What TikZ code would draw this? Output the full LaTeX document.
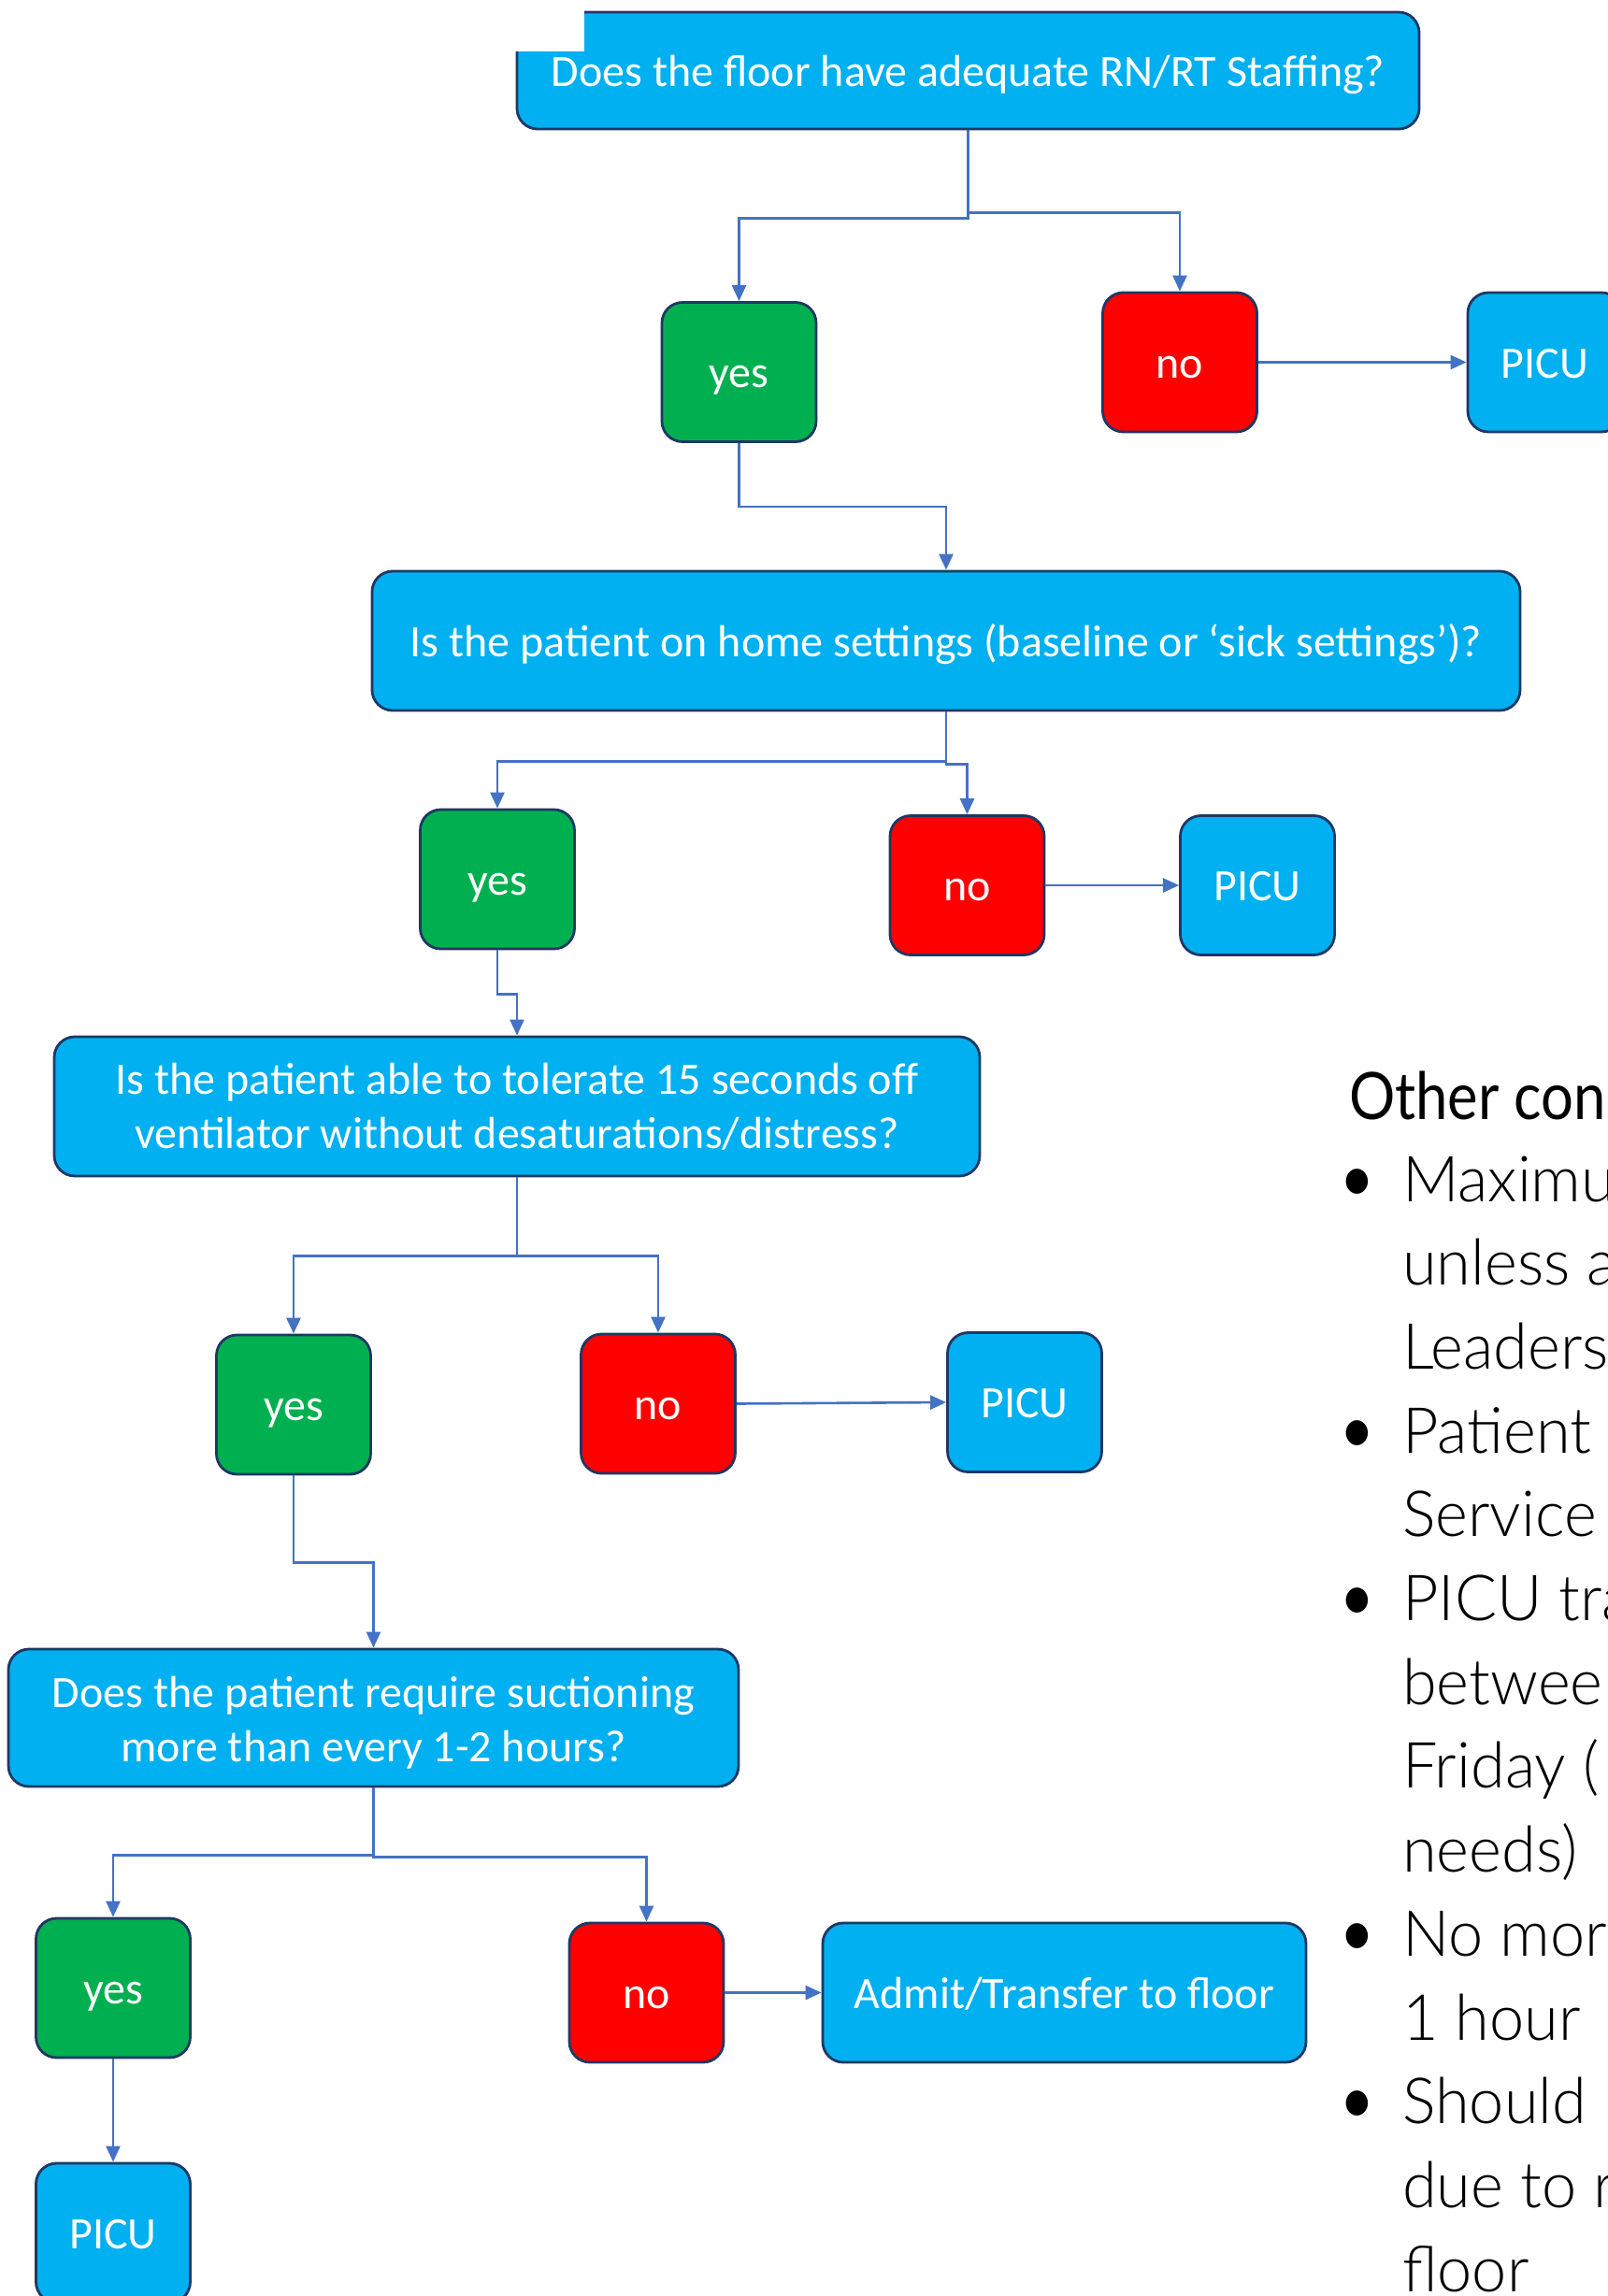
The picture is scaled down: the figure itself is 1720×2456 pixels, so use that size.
\documentclass[tikz,border=0pt]{standalone}
\usepackage{fontspec}
\setmainfont{Carlito}
\newfontfamily\headfont[FakeStretch=0.88]{Lato}
\newfontfamily\bodyfont[FakeStretch=0.98]{Lato Light}
\usetikzlibrary{arrows.meta}
\definecolor{boxblue}{HTML}{00B0F0}
\definecolor{boxgreen}{HTML}{00B050}
\definecolor{boxred}{HTML}{FF0000}
\definecolor{edgenavy}{HTML}{1F3864}
\definecolor{lineblue}{HTML}{4472C4}
\begin{document}
\begin{tikzpicture}[x=1pt,y=-1pt,
  box/.style={draw=edgenavy, line width=2.8pt, rounded corners=22pt, text=white,
    font=\fontsize{48}{58}\selectfont, align=center, inner sep=0pt, minimum height=149pt},
  oneline/.style={text height=40.8pt, text depth=7.2pt},
  bluebox/.style={box, fill=boxblue},
  yesbox/.style={box, oneline, fill=boxgreen, minimum width=165pt},
  nobox/.style={box, oneline, fill=boxred, minimum width=165pt},
  picubox/.style={bluebox, oneline, minimum width=165pt},
  conn/.style={draw=lineblue, line width=2.6pt, -{Triangle[length=17pt,width=15pt]}},
  headtxt/.style={anchor=base west, inner sep=0pt, font=\headfont\fontsize{70}{84}\selectfont},
  bodytxt/.style={anchor=base west, inner sep=0pt, font=\bodyfont\fontsize{68}{84}\selectfont},
  bultxt/.style={anchor=base west, inner sep=0pt, font=\headfont\fontsize{72}{84}\selectfont},
]
\useasboundingbox (0,0) rectangle (1720,2456);
\clip (0,0) rectangle (1720,2456);

% --- level 1
\node[bluebox, oneline, minimum width=965pt, minimum height=125pt] (top) at (1035.5,75.5) {Does the floor have adequate RN/RT Staffing?};
\fill[white] (549,9) rectangle (625,55);
\node[yesbox] (yes1) at (790.5,398) {yes};
\node[nobox] (no1) at (1262,387.5) {no};
\node[picubox] (picu1) at (1652.5,387.5) {PICU};

% --- level 2
\node[bluebox, oneline, minimum width=1228pt] (box2) at (1012,685.5) {Is the patient on home settings (baseline or ‘sick settings’)?};
\node[yesbox] (yes2) at (532,940.5) {yes};
\node[nobox] (no2) at (1034.5,947) {no};
\node[picubox] (picu2) at (1345,947) {PICU};

% --- level 3
\node[bluebox, minimum width=990pt] (box3) at (553,1183.5) {Is the patient able to tolerate 15 seconds off\\ventilator without desaturations/distress?};
\node[yesbox] (yes3) at (314,1502.5) {yes};
\node[nobox] (no3) at (704,1501.5) {no};
\node[picubox] (picu3) at (1096,1500) {PICU};

% --- level 4
\node[bluebox, minimum width=781pt, minimum height=147pt] (box4) at (399.5,1837.5) {\rule{0pt}{44pt}Does the patient require suctioning\\more than every 1-2 hours?};
\node[yesbox] (yes4) at (121,2126.5) {yes};
\node[nobox] (no4) at (691.5,2131.5) {no};
\node[bluebox, oneline, minimum width=517pt] (admit) at (1138.5,2131.5) {Admit/Transfer to floor};
\node[picubox] (picu4) at (121,2388.5) {PICU};

% --- connectors
\draw[conn] (top.south) -- ++(0,94) -| (yes1.north);
\draw[conn] (top.south) -- ++(0,88) -| (no1.north);
\draw[conn] (no1.east) -- (picu1.west);
\draw[conn] (yes1.south) -- ++(0,68) -| (box2.north);
\draw[conn] (box2.south) -- ++(0,53) -| (yes2.north);
\draw[conn] (box2.south) -- ++(0,56) -| (no2.north);
\draw[conn] (no2.east) -- (picu2.west);
\draw[conn] (yes2.south) -- ++(0,47) -| (box3.north);
\draw[conn] (box3.south) -- ++(0,84) -| (yes3.north);
\draw[conn] (box3.south) -- ++(0,84) -| (no3.north);
\draw[conn] (no3.east) -- (picu3.west);
\draw[conn] (yes3.south) -- ++(0,93) -| (box4.north);
\draw[conn] (box4.south) -- ++(0,72) -| (yes4.north);
\draw[conn] (box4.south) -- ++(0,74) -| (no4.north);
\draw[conn] (no4.east) -- (admit.west);
\draw[conn] (yes4.south) -- (picu4.north);

% --- side notes
\node[headtxt] (h) at (1443,1197) {Other con};
\node[bultxt] (b1) at (1433,1285) {•};
\node[bodytxt] (l1) at (1500,1285) {Maximu};
\node[bodytxt] (l2) at (1500,1374.7) {unless a};
\node[bodytxt] (l3) at (1500,1464.4) {Leaders};
\node[bultxt] (b2) at (1433,1554.1) {•};
\node[bodytxt] (l4) at (1500,1554.1) {Patient};
\node[bodytxt] (l5) at (1500,1643.8) {Service};
\node[bultxt] (b3) at (1433,1733.5) {•};
\node[bodytxt] (l6) at (1500,1733.5) {PICU tra};
\node[bodytxt] (l7) at (1500,1823.2) {betwee};
\node[bodytxt] (l8) at (1500,1912.9) {Friday (};
\node[bodytxt] (l9) at (1500,2002.6) {needs)};
\node[bultxt] (b4) at (1433,2092.3) {•};
\node[bodytxt] (l10) at (1500,2092.3) {No mor};
\node[bodytxt] (l11) at (1500,2182) {1 hour};
\node[bultxt] (b5) at (1433,2271.7) {•};
\node[bodytxt] (l12) at (1500,2271.7) {Should};
\node[bodytxt] (l13) at (1500,2361.4) {due to r};
\node[bodytxt] (l14) at (1500,2451.1) {floor};
\end{tikzpicture}
\end{document}
